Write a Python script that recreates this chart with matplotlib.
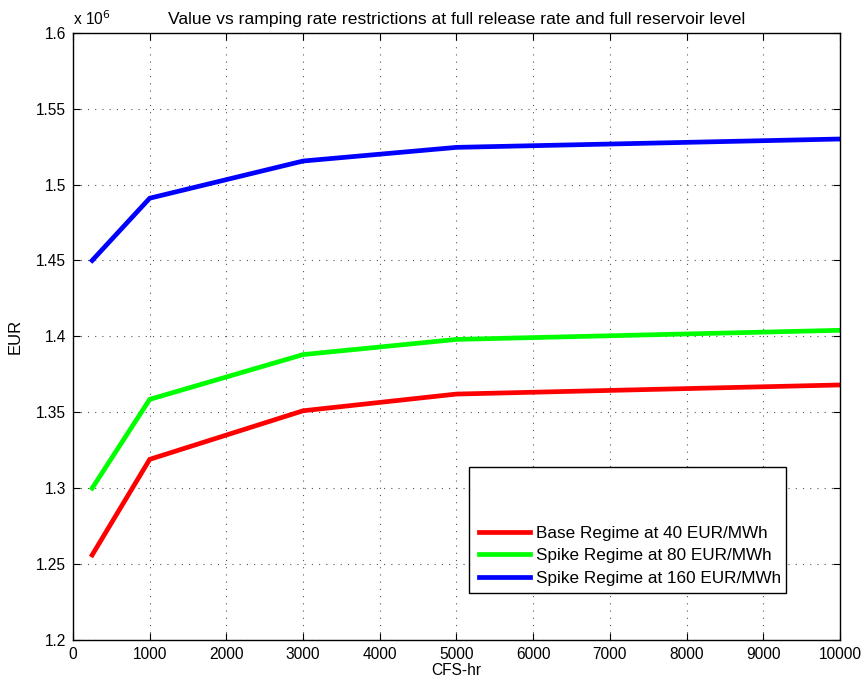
import matplotlib
matplotlib.use("Agg")
import matplotlib.pyplot as plt
from matplotlib.ticker import FuncFormatter, MultipleLocator
from matplotlib.patches import Rectangle

plt.rcParams['font.family'] = ['Liberation Sans', 'DejaVu Sans']

cfs_hr = [250, 1000, 3000, 5000, 10000]
base_40 = [1.256e6, 1.319e6, 1.351e6, 1.362e6, 1.368e6]
spike_80 = [1.300e6, 1.3585e6, 1.388e6, 1.398e6, 1.404e6]
spike_160 = [1.450e6, 1.491e6, 1.5155e6, 1.5245e6, 1.530e6]
labels = ['Base Regime at 40 EUR/MWh', 'Spike Regime at 80 EUR/MWh',
          'Spike Regime at 160 EUR/MWh']
colors = ['#ff0000', '#00ff00', '#0000ff']
x_ticks = [0, 1000, 2000, 3000, 4000, 5000, 6000, 7000, 8000, 9000, 10000]

fig = plt.figure(figsize=(8.68, 6.85), dpi=100)
ax = fig.add_axes([0.0841, 0.0657, 0.8836, 0.8865])

lines = []
for ys, c, lab in zip([base_40, spike_80, spike_160], colors, labels):
    l, = ax.plot(cfs_hr, ys, color=c, lw=3.4, label=lab, solid_joinstyle='miter')
    lines.append(l)

ax.set_xlim(0, 10000)
ax.set_ylim(1.2e6, 1.6e6)
ax.set_xticks(x_ticks)
ax.yaxis.set_major_locator(MultipleLocator(0.05e6))
ax.yaxis.set_major_formatter(FuncFormatter(lambda v, p: f"{v/1e6:g}"))
ax.tick_params(direction='in', top=True, right=True, labelsize=11.2, length=5, width=0.8, pad=5)
ax.grid(True, linestyle=(0, (1, 5.5)), color='#555555', lw=0.8)
for s in ax.spines.values():
    s.set_linewidth(1.0)

ax.set_xlabel('CFS-hr', fontsize=11.2, labelpad=1)
ax.set_ylabel('EUR', fontsize=12, labelpad=10)
ax.set_title('Value vs ramping rate restrictions at full release rate and full reservoir level',
             fontsize=12.6, pad=6)
ax.text(0.0, 1.008, r'x 10$^{6}$', transform=ax.transAxes, fontsize=11.2, ha='left', va='bottom')

# legend box (MATLAB style with empty space at top)
box = Rectangle((0.516, 0.077), 0.4135, 0.2085, transform=ax.transAxes,
                facecolor='white', edgecolor='black', lw=1.0, zorder=5)
ax.add_patch(box)
leg = ax.legend(handles=lines, loc='lower left', bbox_to_anchor=(0.519, 0.077),
                frameon=False, fontsize=12.3, handlelength=3.0, handletextpad=0.35,
                labelspacing=0.42, borderpad=0.45, borderaxespad=0)
leg.set_zorder(6)

fig.savefig('out.png', dpi=100)
